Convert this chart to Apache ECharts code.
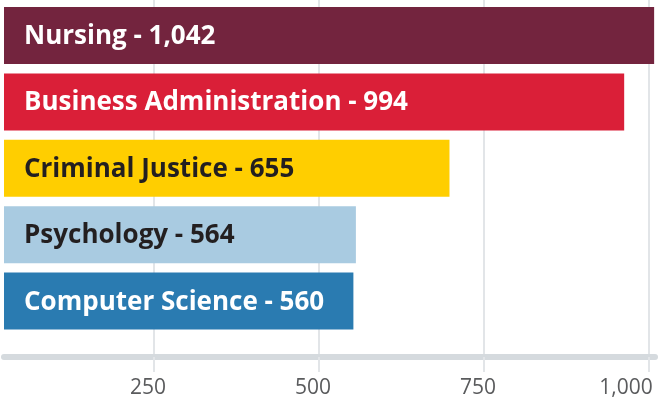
<!DOCTYPE html>
<html>
<head>
<meta charset="utf-8">
<script src="https://cdn.jsdelivr.net/npm/echarts@6/dist/echarts.min.js"></script>
<style>
html,body{margin:0;padding:0;background:#fff;}
#chart{width:658px;height:400px;}
</style>
</head>
<body>
<div id="chart"></div>
<script>
// Data
const categories = ['Nursing', 'Business Administration', 'Criminal Justice', 'Psychology', 'Computer Science'];
const countLabels = ['1,042', '994', '655', '564', '560'];
const barValues = [1042, 994, 714, 564, 560];
const tickValues = [250, 500, 750, 1000];
const tickLabels = ['250', '500', '750', '1,000'];

const barColors = ['#73243e', '#da1f38', '#ffce00', '#a9cbe1', '#2a7bb1'];
const textColors = ['#ffffff', '#ffffff', '#231f20', '#231f20', '#ffffff'];

const chart = echarts.init(document.getElementById('chart'), null, {renderer: 'canvas'});
const gridColor = '#e2e5e8';
const FONT = 'Open Sans';
const AXIS_TEXT = '#5a5b5d';

const option = {
  animation: false,
  backgroundColor: '#ffffff',
  grid: [
    {left: 4, width: 652, top: 2.3, height: 332, containLabel: false},
    {left: 0, width: 649, top: 0, height: 357, containLabel: false},
    {left: 4, width: 651, top: 340, height: 17, containLabel: false}
  ],
  xAxis: [
    {gridIndex: 0, type: 'value', min: 0, max: 1045, show: false},
    {
      gridIndex: 1, type: 'value', min: 16.7, max: 1000,
      axisLine: {show: false},
      axisTick: {show: true, customValues: tickValues, length: 15, lineStyle: {color: gridColor, width: 2}},
      splitLine: {show: true, lineStyle: {color: gridColor, width: 2}},
      axisLabel: {
        customValues: tickValues,
        margin: 21,
        color: AXIS_TEXT,
        fontFamily: FONT,
        fontSize: 21,
        formatter: function (v) {
          const i = tickValues.indexOf(v);
          if (i < 0) return '';
          return (i === tickValues.length - 1 ? '{m|' : '{n|') + tickLabels[i] + '}';
        },
        rich: {
          n: {fontFamily: FONT, fontSize: 21, color: AXIS_TEXT, padding: [0, 12, 0, 0]},
          m: {fontFamily: FONT, fontSize: 21, color: AXIS_TEXT, padding: [0, 46, 0, 0]}
        }
      }
    },
    {
      gridIndex: 2, type: 'value', min: 0, max: 1,
      axisLine: {show: true, lineStyle: {color: '#d5dade', width: 6}},
      axisTick: {show: false}, axisLabel: {show: false}, splitLine: {show: false}
    }
  ],
  yAxis: [
    {gridIndex: 0, type: 'category', inverse: true, data: categories, show: false},
    {gridIndex: 1, type: 'value', show: false},
    {gridIndex: 2, type: 'value', show: false}
  ],
  series: [{
    type: 'bar',
    xAxisIndex: 0,
    yAxisIndex: 0,
    barWidth: 57,
    data: barValues.map(function (v, i) {
      return {
        value: v,
        itemStyle: {color: barColors[i]},
        label: {color: textColors[i]}
      };
    }),
    label: {
      show: true,
      position: 'insideLeft',
      distance: 20,
      offset: [0, 1],
      fontFamily: FONT,
      fontWeight: 'bold',
      fontSize: 26,
      formatter: function (p) {
        return categories[p.dataIndex] + ' - ' + countLabels[p.dataIndex];
      }
    }
  }]
};
chart.setOption(option);
</script>
</body>
</html>
